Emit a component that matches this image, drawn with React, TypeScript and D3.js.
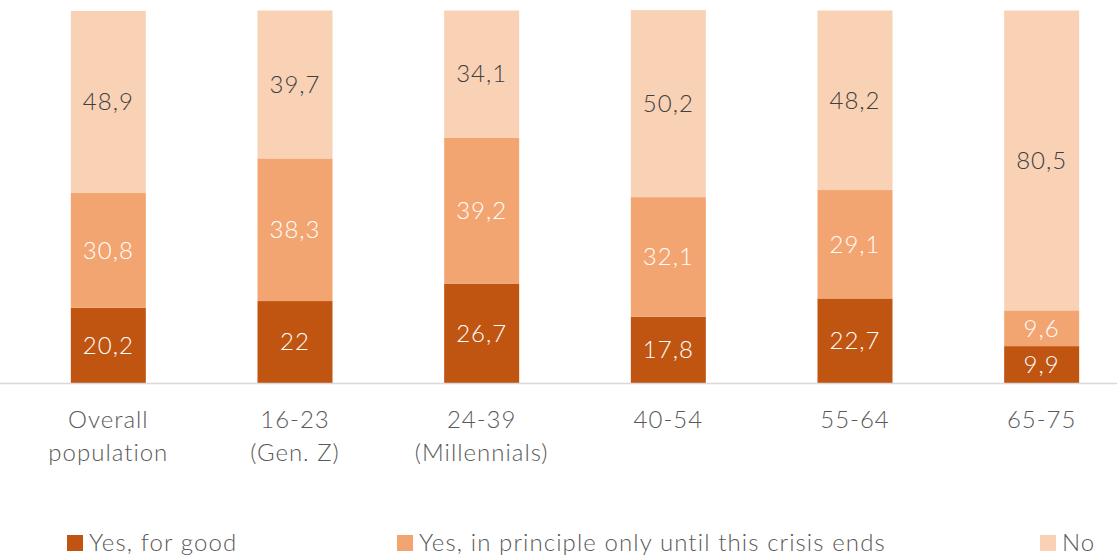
import React from "react";
import * as d3 from "d3";

const categories = [["Overall", "population"], ["16-23", "(Gen. Z)"], ["24-39", "(Millennials)"], ["40-54"], ["55-64"], ["65-75"]];
const yesForGood = [20.2, 22, 26.7, 17.8, 22.7, 9.9];
const yesUntilEnds = [30.8, 38.3, 39.2, 32.1, 29.1, 9.6];
const no = [48.9, 39.7, 34.1, 50.2, 48.2, 80.5];
const seriesNames = ["Yes, for good", "Yes, in principle only until this crisis ends", "No"];
const colors = ["#C05511", "#F3A571", "#F9D2B6"];
const labelColors = ["#ffffff", "#ffffff", "#404040"];

const W = 1117, H = 556;
const FONT = "Lato, 'Open Sans', sans-serif";

export default function App() {
  const keys = ["a", "b", "c"];
  const rows = categories.map((c, i) => ({ i, a: yesForGood[i], b: yesUntilEnds[i], c: no[i] }));
  const stack = d3.stack<any>().keys(keys)(rows);
  const x = d3.scaleBand<number>().domain(rows.map((r) => r.i)).range([15, 1135]).padding(0);
  const y = d3.scaleLinear().domain([0, 100]).range([383, 10.5]);
  const bw = 75;
  const fmt = (v: number) => String(v).replace(".", ",");
  const legendX = [67, 397, 1040];
  const vals = [yesForGood, yesUntilEnds, no];

  return (
    <svg width={W} height={H} style={{ position: "fixed", left: 0, top: 0 }} fontFamily={FONT}>
      <rect width={W} height={H} fill="#fff" />
      {stack.map((s, si) => (
        <g key={si}>
          {s.map((d, i) => {
            const cx = x(i)! + x.bandwidth() / 2;
            const y0 = y(d[0]), y1 = y(d[1]);
            return (
              <g key={i}>
                <rect x={cx - bw / 2} y={y1} width={bw} height={y0 - y1} fill={colors[si]} />
                <text x={cx} y={(y0 + y1) / 2} dy="0.35em" textAnchor="middle" fontSize={24} fontWeight={300} letterSpacing={1} fill={labelColors[si]}>
                  {fmt(vals[si][i])}
                </text>
              </g>
            );
          })}
        </g>
      ))}
      <line x1={0} x2={W} y1={383.5} y2={383.5} stroke="#d9d9d9" strokeWidth={1.5} />
      {categories.map((lines, i) => {
        const cx = x(i)! + x.bandwidth() / 2;
        return (
          <text key={i} x={cx} y={428} textAnchor="middle" fontSize={24} fontWeight={300} letterSpacing={1} fill="#595959">
            {lines.map((l, li) => (
              <tspan key={li} x={cx} dy={li === 0 ? 0 : 33}>{l}</tspan>
            ))}
          </text>
        );
      })}
      {seriesNames.map((n, i) => (
        <g key={i}>
          <rect x={legendX[i]} y={535} width={16} height={16} fill={colors[i]} />
          <text x={legendX[i] + 22} y={551} fontSize={24} fontWeight={300} letterSpacing={1.1} fill="#595959">{n}</text>
        </g>
      ))}
    </svg>
  );
}
